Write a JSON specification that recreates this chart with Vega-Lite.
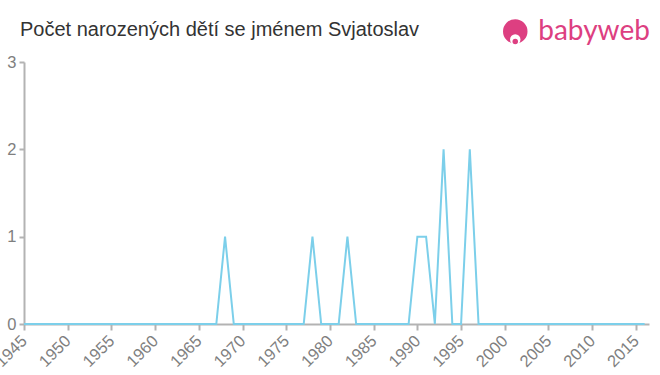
{
  "$schema": "https://vega.github.io/schema/vega-lite/v6.json",
  "width": 625,
  "height": 262,
  "autosize": {"type": "none"},
  "padding": {"left": 24, "top": 62, "right": 11, "bottom": 51},
  "background": "#ffffff",
  "config": {
    "view": {"stroke": null},
    "font": "Liberation Sans"
  },
  "datasets": {
    "births": [
      {"year": 1945, "count": 0}, {"year": 1946, "count": 0}, {"year": 1947, "count": 0},
      {"year": 1948, "count": 0}, {"year": 1949, "count": 0}, {"year": 1950, "count": 0},
      {"year": 1951, "count": 0}, {"year": 1952, "count": 0}, {"year": 1953, "count": 0},
      {"year": 1954, "count": 0}, {"year": 1955, "count": 0}, {"year": 1956, "count": 0},
      {"year": 1957, "count": 0}, {"year": 1958, "count": 0}, {"year": 1959, "count": 0},
      {"year": 1960, "count": 0}, {"year": 1961, "count": 0}, {"year": 1962, "count": 0},
      {"year": 1963, "count": 0}, {"year": 1964, "count": 0}, {"year": 1965, "count": 0},
      {"year": 1966, "count": 0}, {"year": 1967, "count": 0}, {"year": 1968, "count": 1},
      {"year": 1969, "count": 0}, {"year": 1970, "count": 0}, {"year": 1971, "count": 0},
      {"year": 1972, "count": 0}, {"year": 1973, "count": 0}, {"year": 1974, "count": 0},
      {"year": 1975, "count": 0}, {"year": 1976, "count": 0}, {"year": 1977, "count": 0},
      {"year": 1978, "count": 1}, {"year": 1979, "count": 0}, {"year": 1980, "count": 0},
      {"year": 1981, "count": 0}, {"year": 1982, "count": 1}, {"year": 1983, "count": 0},
      {"year": 1984, "count": 0}, {"year": 1985, "count": 0}, {"year": 1986, "count": 0},
      {"year": 1987, "count": 0}, {"year": 1988, "count": 0}, {"year": 1989, "count": 0},
      {"year": 1990, "count": 1}, {"year": 1991, "count": 1}, {"year": 1992, "count": 0},
      {"year": 1993, "count": 2}, {"year": 1994, "count": 0}, {"year": 1995, "count": 0},
      {"year": 1996, "count": 2}, {"year": 1997, "count": 0}, {"year": 1998, "count": 0},
      {"year": 1999, "count": 0}, {"year": 2000, "count": 0}, {"year": 2001, "count": 0},
      {"year": 2002, "count": 0}, {"year": 2003, "count": 0}, {"year": 2004, "count": 0},
      {"year": 2005, "count": 0}, {"year": 2006, "count": 0}, {"year": 2007, "count": 0},
      {"year": 2008, "count": 0}, {"year": 2009, "count": 0}, {"year": 2010, "count": 0},
      {"year": 2011, "count": 0}, {"year": 2012, "count": 0}, {"year": 2013, "count": 0},
      {"year": 2014, "count": 0}, {"year": 2015, "count": 0}, {"year": 2016, "count": 0}
    ],
    "logo": [
      {"year": 2001.2, "level": 3.35, "brand": "babyweb"}
    ],
    "heading": [
      {"year": 1945, "level": 3.292, "text": "Počet narozených dětí se jménem Svjatoslav"}
    ]
  },
  "layer": [
    {
      "data": {"name": "births"},
      "mark": {"type": "line", "color": "#7ccfea", "strokeWidth": 2, "clip": false},
      "encoding": {
        "x": {
          "field": "year",
          "type": "quantitative",
          "scale": {"domain": [1945, 2016.5], "nice": false, "zero": false},
          "axis": {
            "title": null,
            "values": [1945, 1950, 1955, 1960, 1965, 1970, 1975, 1980, 1985, 1990, 1995, 2000, 2005, 2010, 2015],
            "format": "d",
            "labelAngle": -45,
            "labelAlign": "right",
            "labelBaseline": "middle",
            "labelFontSize": 16.5,
            "labelColor": "#7f7f7f",
            "labelPadding": 8,
            "labelFlush": false,
            "labelOverlap": false,
            "domainColor": "#b3b3b3",
            "domainWidth": 2,
            "tickColor": "#b3b3b3",
            "tickWidth": 2,
            "tickSize": 6,
            "grid": false
          }
        },
        "y": {
          "field": "count",
          "type": "quantitative",
          "scale": {"domain": [0, 3], "nice": false},
          "axis": {
            "title": null,
            "values": [0, 1, 2, 3],
            "format": "d",
            "labelFontSize": 16.5,
            "labelColor": "#7f7f7f",
            "labelPadding": 3,
            "domainColor": "#b3b3b3",
            "domainWidth": 2,
            "tickColor": "#b3b3b3",
            "tickWidth": 2,
            "tickSize": 5,
            "grid": false
          }
        }
      }
    },
    {
      "data": {"name": "heading"},
      "mark": {"type": "text", "align": "left", "baseline": "alphabetic", "font": "Liberation Sans", "fontSize": 20, "color": "#333333", "dx": -4, "clip": false},
      "encoding": {
        "x": {"field": "year", "type": "quantitative"},
        "y": {"field": "level", "type": "quantitative"},
        "text": {"field": "text"}
      }
    },
    {
      "data": {"name": "logo"},
      "mark": {"type": "point", "shape": "circle", "filled": true, "color": "#dd3f81", "opacity": 1, "size": 600, "clip": false},
      "encoding": {
        "x": {"field": "year", "type": "quantitative"},
        "y": {"field": "level", "type": "quantitative"}
      }
    },
    {
      "data": {"name": "logo"},
      "mark": {"type": "point", "shape": "circle", "filled": true, "color": "#ffffff", "opacity": 1, "size": 110, "clip": false, "yOffset": 8},
      "encoding": {
        "x": {"field": "year", "type": "quantitative"},
        "y": {"field": "level", "type": "quantitative"}
      }
    },
    {
      "data": {"name": "logo"},
      "mark": {"type": "point", "shape": "circle", "filled": true, "color": "#dd3f81", "opacity": 1, "size": 30, "clip": false, "yOffset": 10},
      "encoding": {
        "x": {"field": "year", "type": "quantitative"},
        "y": {"field": "level", "type": "quantitative"}
      }
    },
    {
      "data": {"name": "logo"},
      "mark": {"type": "text", "align": "left", "baseline": "alphabetic", "font": "Lato", "fontSize": 28, "fontWeight": "normal", "color": "#dd3f81", "dx": 23, "dy": 9, "clip": false},
      "encoding": {
        "x": {"field": "year", "type": "quantitative"},
        "y": {"field": "level", "type": "quantitative"},
        "text": {"field": "brand"}
      }
    }
  ]
}
